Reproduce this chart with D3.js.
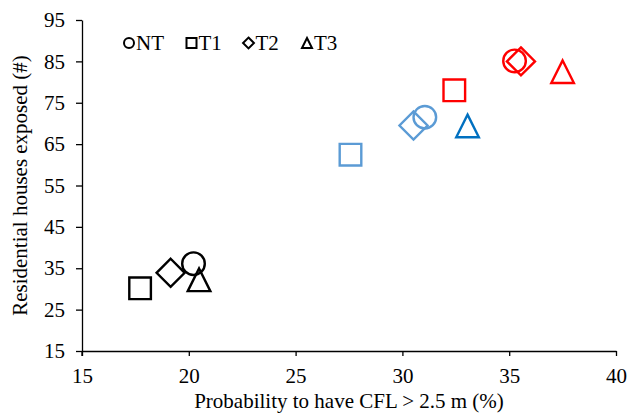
<!DOCTYPE html>
<html>
<head>
<meta charset="utf-8">
<script src="https://cdn.jsdelivr.net/npm/d3@7"></script>
<style>
  html, body { margin: 0; padding: 0; background: #fff; }
  svg { display: block; }
  text { font-family: "Liberation Serif", "Times New Roman", serif; fill: #000; }
</style>
</head>
<body>
<svg id="chart" width="630" height="414"></svg>
<script>
// ---- data ----
const treatments = ["NT", "T1", "T2", "T3"];
const treatmentShapes = ["circle", "square", "diamond", "triangle"];
const pointColors = ["#000000", "#000000", "#000000", "#000000",
                     "#5B9BD5", "#5B9BD5", "#5B9BD5", "#0070C0",
                     "#FF0000", "#FF0000", "#FF0000", "#FF0000"];
const pointTreatments = ["NT", "T1", "T2", "T3",
                         "NT", "T1", "T2", "T3",
                         "NT", "T1", "T2", "T3"];
const probability = [20.22, 17.72, 19.15, 20.48,
                     31.05, 27.57, 30.52, 33.05,
                     35.25, 32.43, 35.55, 37.5];
const housesExposed = [36.1, 30.15, 33.9, 32.2,
                       71.5, 62.45, 69.5, 69.4,
                       85.1, 78.0, 85.0, 82.5];
const xTicks = [15, 20, 25, 30, 35, 40];
const yTicks = [15, 25, 35, 45, 55, 65, 75, 85, 95];
const xTitle = "Probability to have CFL > 2.5 m (%)";
const yTitle = "Residential houses exposed (#)";

// ---- layout ----
const W = 630, H = 414;
const FONT = "21px";
const margin = { left: 82, right: 14, top: 20, bottom: 63 };
const svg = d3.select("#chart");

const x = d3.scaleLinear().domain([15, 40]).range([margin.left, W - margin.right]);
const y = d3.scaleLinear().domain([15, 95]).range([H - margin.bottom, margin.top]);

// axes
const xAxis = svg.append("g")
  .attr("transform", `translate(0,${H - margin.bottom})`)
  .call(d3.axisBottom(x).tickValues(xTicks).tickSize(5).tickPadding(12).tickSizeOuter(0));
const yAxis = svg.append("g")
  .attr("transform", `translate(${margin.left},0)`)
  .call(d3.axisLeft(y).tickValues(yTicks).tickSize(6).tickPadding(11).tickSizeOuter(0));

[xAxis, yAxis].forEach(g => {
  g.select(".domain").attr("stroke", "#000").attr("stroke-width", 1.3);
  g.selectAll(".tick line").attr("stroke", "#000").attr("stroke-width", 1.3);
  g.selectAll(".tick text").style("font-size", FONT).style("font-family", "'Liberation Serif', serif").attr("fill", "#000");
});
// y-axis line continues slightly below the x-axis
svg.append("line")
  .attr("x1", x(15)).attr("x2", x(15))
  .attr("y1", y(15)).attr("y2", y(15) + 5)
  .attr("stroke", "#000").attr("stroke-width", 1.3);

// axis titles
svg.append("text")
  .attr("x", (x(15) + x(40)) / 2).attr("y", 408)
  .attr("text-anchor", "middle")
  .style("font-size", FONT)
  .text(xTitle);
svg.append("text")
  .attr("transform", `translate(27,${(y(15) + y(95)) / 2}) rotate(-90)`)
  .attr("text-anchor", "middle")
  .style("font-size", FONT)
  .text(yTitle);

// shape path generator
function shapePath(shape, s) {
  switch (shape) {
    case "circle":
      return `M${-s},0A${s},${s} 0 1,0 ${s},0A${s},${s} 0 1,0 ${-s},0Z`;
    case "square":
      return `M${-s},${-s}H${s}V${s}H${-s}Z`;
    case "diamond": {
      const d = s * 1.3;
      return `M0,${-d}L${d},0L0,${d}L${-d},0Z`;
    }
    case "triangle": {
      const h = s * 2;
      return `M0,${-h / 2}L${s},${h / 2}L${-s},${h / 2}Z`;
    }
  }
}

const points = probability.map((p, i) => ({
  x: p, y: housesExposed[i], color: pointColors[i],
  shape: treatmentShapes[treatments.indexOf(pointTreatments[i])]
}));

svg.append("g").selectAll("path")
  .data(points)
  .join("path")
  .attr("transform", d => `translate(${x(d.x)},${y(d.y)})`)
  .attr("d", d => shapePath(d.shape, d.shape === "circle" ? 11.3 : (d.shape === "triangle" ? 11.3 : 10.8)))
  .attr("fill", "none")
  .attr("stroke", d => d.color)
  .attr("stroke-width", 2.4);

// legend
const legendX = [129, 191.5, 248.5, 307];
const legend = svg.append("g");
treatments.forEach((t, i) => {
  const cx = legendX[i], cy = 43;
  legend.append("path")
    .attr("transform", `translate(${cx},${cy})`)
    .attr("d", shapePath(treatmentShapes[i], treatmentShapes[i] === "diamond" ? 4.2 : 5))
    .attr("fill", "none")
    .attr("stroke", "#000")
    .attr("stroke-width", 2);
  legend.append("text")
    .attr("x", cx + 7).attr("y", 49.5)
    .style("font-size", FONT)
    .text(t);
});
</script>
</body>
</html>
